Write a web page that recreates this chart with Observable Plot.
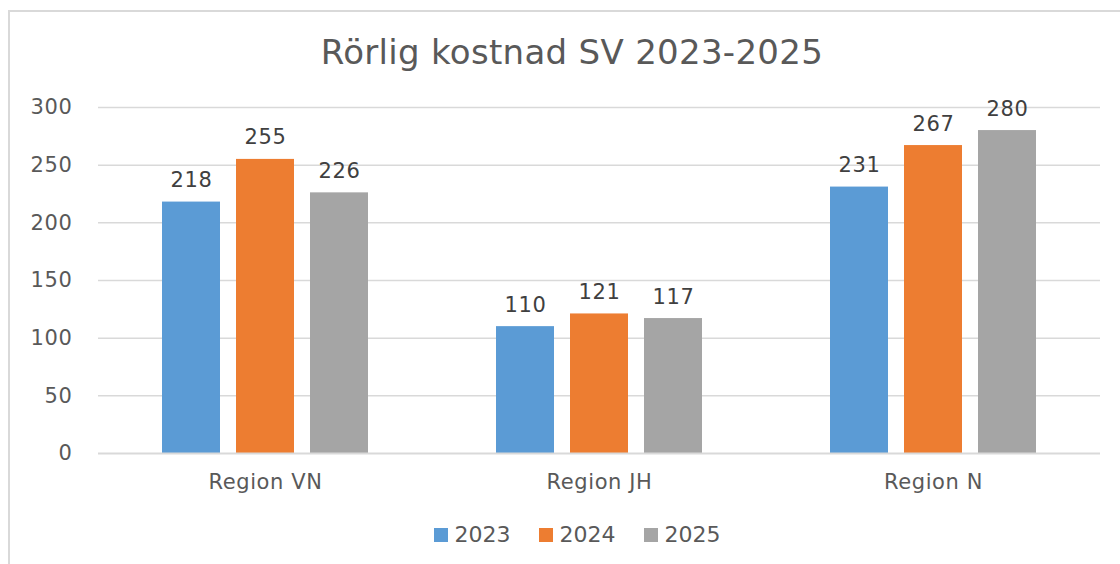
<!DOCTYPE html>
<html>
<head>
<meta charset="utf-8">
<script src="https://cdn.jsdelivr.net/npm/d3@7"></script>
<script src="https://cdn.jsdelivr.net/npm/@observablehq/plot@0.6"></script>
<style>
  html, body { margin: 0; padding: 0; background: #fff; }
  body { width: 1120px; height: 564px; position: relative; overflow: hidden; font-family: "DejaVu Sans", sans-serif; }
  #frame { position: absolute; left: 8px; top: 10px; width: 1200px; height: 600px; border-top: 2px solid #d9d9d9; border-left: 2px solid #d9d9d9; }
  #title { position: absolute; left: 0; width: 1144px; top: 32px; text-align: center; font-size: 34px; color: #595959; white-space: nowrap; letter-spacing: 0.3px; }
  #chart { position: absolute; left: 0; top: 90px; }
  #legend { position: absolute; left: 0; width: 1154px; top: 522px; display: flex; justify-content: center; gap: 28px; font-size: 22px; color: #595959; }
  #legend span.item { display: flex; align-items: center; gap: 7px; }
  #legend span.sw { width: 14px; height: 14px; display: inline-block; }
  #chart svg text { letter-spacing: 0.6px; }
</style>
</head>
<body>
<div id="frame"></div>
<div id="title">Rörlig kostnad SV 2023-2025</div>
<div id="chart"></div>
<div id="legend"></div>
<script>
const regions = ["Region VN", "Region JH", "Region N"];
const years = ["2023", "2024", "2025"];
const values2023 = [218, 110, 231];
const values2024 = [255, 121, 267];
const values2025 = [226, 117, 280];
const colors = ["#5B9BD5", "#ED7D31", "#A5A5A5"];
const yTicks = [0, 50, 100, 150, 200, 250, 300];

const series = [values2023, values2024, values2025];
const data = [];
regions.forEach((r, i) => years.forEach((y, j) => data.push({region: r, year: y, value: series[j][i]})));

const chart = Plot.plot({
  width: 1120,
  height: 410,
  marginTop: 17,
  marginBottom: 47,
  marginLeft: 98,
  marginRight: 20,
  style: { fontFamily: "DejaVu Sans, sans-serif", color: "#595959", background: "transparent" },
  fx: { domain: regions, padding: 0, label: null },
  x: { domain: years, paddingInner: 0.22, paddingOuter: 0.865, axis: null },
  y: { domain: [0, 300], ticks: yTicks, label: null },
  color: { domain: years, range: colors },
  marks: [
    Plot.gridY(yTicks.filter(d => d > 0), { stroke: "#d9d9d9", strokeOpacity: 1, strokeWidth: 1.5 }),
    Plot.axisY(yTicks, { tickSize: 0, tickPadding: 26, fontSize: 21, fill: "#595959", label: null }),
    Plot.axisFx({ anchor: "bottom", tickSize: 0, tickPadding: 21, fontSize: 21, fill: "#595959", label: null }),
    Plot.barY(data, { fx: "region", x: "year", y: "value", fill: "year" }),
    Plot.ruleY([0], { stroke: "#d9d9d9", strokeWidth: 2 }),
    Plot.text(data, { fx: "region", x: "year", y: "value", text: d => String(d.value), lineAnchor: "bottom", dy: -15, fontSize: 21, fill: "#404040" })
  ]
});
document.getElementById("chart").appendChild(chart);

const legend = document.getElementById("legend");
years.forEach((y, i) => {
  const item = document.createElement("span");
  item.className = "item";
  const sw = document.createElement("span");
  sw.className = "sw";
  sw.style.background = colors[i];
  const t = document.createElement("span");
  t.textContent = y;
  item.appendChild(sw);
  item.appendChild(t);
  legend.appendChild(item);
});
</script>
</body>
</html>
